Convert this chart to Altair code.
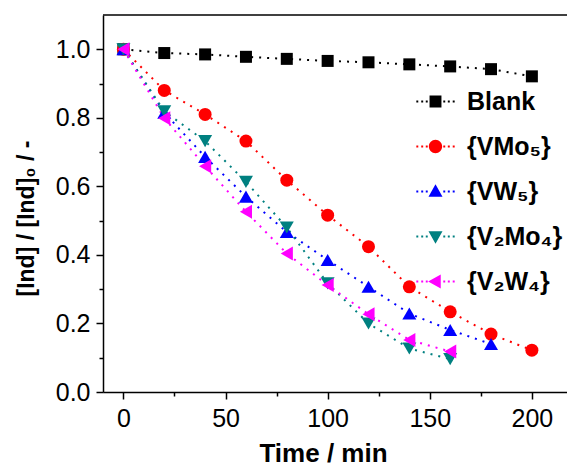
import altair as alt
import pandas as pd

# ---------------- data ----------------
series = ["Blank", "{VMo₅}", "{VW₅}", "{V₂Mo₄}", "{V₂W₄}"]
colors = ["#000000", "#FF0000", "#0000FF", "#008080", "#FF00FF"]
shapes = ["square", "circle", "triangle-up", "triangle-down", "triangle-left"]
sizes = [144, 169, 196, 196, 196]

time_blank = [0, 20, 40, 60, 80, 100, 120, 140, 160, 180, 200]
blank = [1.0, 0.989, 0.985, 0.978, 0.972, 0.966, 0.962, 0.956, 0.950, 0.942, 0.921]

time_vmo5 = [0, 20, 40, 60, 80, 100, 120, 140, 160, 180, 200]
vmo5 = [1.0, 0.880, 0.810, 0.732, 0.618, 0.516, 0.424, 0.307, 0.234, 0.169, 0.122]

time_vw5 = [0, 20, 40, 60, 80, 100, 120, 140, 160, 180]
vw5 = [1.0, 0.815, 0.686, 0.570, 0.467, 0.385, 0.307, 0.229, 0.181, 0.140]

time_v2mo4 = [0, 20, 40, 60, 80, 100, 120, 140, 160]
v2mo4 = [1.0, 0.819, 0.732, 0.613, 0.480, 0.317, 0.200, 0.127, 0.096]

time_v2w4 = [0, 20, 40, 60, 80, 100, 120, 140, 160]
v2w4 = [1.0, 0.799, 0.659, 0.526, 0.404, 0.312, 0.227, 0.152, 0.118]

x_ticks = [0, 25, 50, 75, 100, 125, 150, 175, 200]
y_ticks = [0.0, 0.1, 0.2, 0.3, 0.4, 0.5, 0.6, 0.7, 0.8, 0.9, 1.0]

# ---------------- table ----------------
rows = []
for name, ts, vs in zip(series,
                        [time_blank, time_vmo5, time_vw5, time_v2mo4, time_v2w4],
                        [blank, vmo5, vw5, v2mo4, v2w4]):
    for t, v in zip(ts, vs):
        rows.append({"time": t, "value": v, "series": name})
df = pd.DataFrame(rows)

# legend symbols: marker with dotted line on both sides (unit coords)
def dots():
    s = ""
    for d in [-2.6, -1.9, -1.25, 1.25, 1.9, 2.6]:
        s += f"M{d-0.14:.2f},-0.14h0.28v0.28h-0.28Z"
    return s

marker_paths = [
    "M-0.85,-0.85h1.7v1.7h-1.7Z",
    "M-0.95,0A0.95,0.95 0 1,0 0.95,0A0.95,0.95 0 1,0 -0.95,0Z",
    "M0,-1.05L1.0,0.75L-1.0,0.75Z",
    "M0,1.05L1.0,-0.75L-1.0,-0.75Z",
    "M-1.05,0L0.75,-1.0L0.75,1.0Z",
]
legend_paths = [p + dots() for p in marker_paths]

W, H = 464, 377
FONT = "Liberation Sans"

x_enc = alt.X(
    "time:Q",
    scale=alt.Scale(domain=[-10, 217.2], nice=False, zero=False),
    axis=alt.Axis(
        values=x_ticks,
        labelExpr="datum.value % 50 == 0 ? format(datum.value, 'd') : ''",
        tickSize={"condition": {"test": "datum.value % 50 != 0", "value": 4}, "value": 7},
        title="Time / min",
        titleX=220, titleY=69, titleBaseline="alphabetic", titleAlign="center",
        labelPadding=7, labelOverlap=False, labelFlush=False,
    ),
)
y_enc = alt.Y(
    "value:Q",
    scale=alt.Scale(domain=[0, 1.1], nice=False, zero=False),
    axis=alt.Axis(
        values=y_ticks,
        labelExpr="round(datum.value*10) % 2 == 0 ? format(datum.value, '.1f') : ''",
        tickSize={"condition": {"test": "round(datum.value*10) % 2 == 1", "value": 4}, "value": 7},
        title="[Ind] / [Ind]₀ / -",
        titleX=-77, titleY=203, titleAngle=270, titleAlign="center", titleBaseline="middle",
        titleFontSize=23,
        labelPadding=6, labelOverlap=False, labelFlush=False,
    ),
)

layers = []
for name, c in zip(series, colors):
    layers.append(
        alt.Chart(df).transform_filter(alt.datum.series == name)
        .mark_line(strokeDash=[2, 6], strokeWidth=2, color=c)
        .encode(x=x_enc, y=y_enc)
    )
for name, c, shp, sz in zip(series, colors, shapes, sizes):
    layers.append(
        alt.Chart(df).transform_filter(alt.datum.series == name)
        .mark_point(shape=shp, filled=True, color=c, size=sz, opacity=1, strokeWidth=0)
        .encode(x=x_enc, y=y_enc)
    )

leg = alt.Legend(
    title=None, orient="none", legendX=320, legendY=74, padding=0,
    labelFont=FONT, labelFontSize=25, labelFontWeight="bold", labelColor="black",
    symbolSize=196, symbolStrokeWidth=0, labelOffset=19, rowPadding=19,
    symbolOpacity=1,
)
# legend-only layer: its marks sit outside the clipped plot area
legend_layer = alt.Chart(df).mark_point(filled=True, opacity=1, clip=True).encode(
    x=alt.value(-2000), y=alt.value(-2000),
    color=alt.Color("series:N", scale=alt.Scale(domain=series, range=colors), legend=leg),
    shape=alt.Shape("series:N", scale=alt.Scale(domain=series, range=legend_paths), legend=leg),
)
layers.append(legend_layer)

top_line = alt.Chart(pd.DataFrame({"k": [0]})).mark_rule(color="black", strokeWidth=1.5).encode(
    x=alt.value(0), x2=alt.value(W), y=alt.value(0)
)
layers.append(top_line)

chart = alt.layer(*layers).properties(
    width=W, height=H,
    padding={"left": 103, "top": 15, "right": 0, "bottom": 74},
    autosize=alt.AutoSizeParams(type="none"),
).configure_view(stroke=None).configure_axis(
    grid=False, domainColor="black", tickColor="black", domainWidth=1.5, tickWidth=1.5,
    labelFont=FONT, labelFontSize=25, labelColor="black",
    titleFont=FONT, titleFontSize=26, titleFontWeight="bold", titleColor="black",
)

chart.save("out.html", embed_options={"renderer": "svg", "actions": False})
